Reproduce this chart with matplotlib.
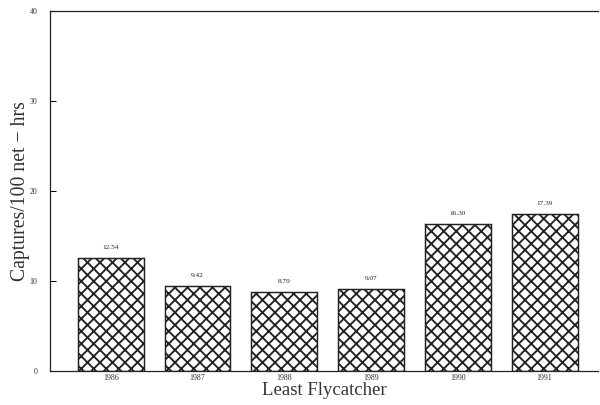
"""
Least Flycatcher capture rates, 1986-1991
"""
import matplotlib
matplotlib.use("Agg")
from matplotlib import pyplot as plt

years = ["1986", "1987", "1988", "1989", "1990", "1991"]
captures = [12.54, 9.42, 8.79, 9.07, 16.30, 17.39]
value_labels = ["12.54", "9.42", "8.79", "9.07", "16.30", "17.39"]
y_ticks = [0, 10, 20, 30, 40]

plt.rcParams['font.family'] = ['Liberation Serif', 'DejaVu Serif']
plt.rcParams['hatch.linewidth'] = 1.8
plt.rcParams['hatch.color'] = '#222222'

f = plt.figure(figsize=(8, 5.4), dpi=75)
ax = f.add_axes([0.0833, 0.084, 0.914, 0.889])

positions = list(range(len(years)))
ax.bar(positions, captures, width=0.76, color='white', edgecolor='#222222',
       linewidth=1.4, hatch='xx')

for x, v, lab in zip(positions, captures, value_labels):
    ax.text(x, v + 0.9, lab, ha='center', va='bottom', fontsize=7, color='#222222')

ax.set_xlim(-0.70, 5.62)
ax.set_ylim(0, 40)
ax.set_yticks(y_ticks)
ax.set_yticklabels([str(t) for t in y_ticks], fontsize=7.5, color='#333333')
ax.set_xticks(positions)
ax.set_xticklabels(years, fontsize=7.5, color='#333333')
ax.tick_params(axis='y', direction='in', length=6, pad=12, width=1)
ax.tick_params(axis='x', length=0, pad=3)

ax.spines['right'].set_visible(False)
for s in ['left', 'top', 'bottom']:
    ax.spines[s].set_linewidth(1.2)
    ax.spines[s].set_color('#222222')

ax.set_xlabel("Least Flycatcher", fontsize=18, color='#333333', labelpad=0)
ax.set_ylabel("Captures/100 net \u2212 hrs", fontsize=19, color='#333333', labelpad=0)

plt.savefig("out.png", dpi=75)
